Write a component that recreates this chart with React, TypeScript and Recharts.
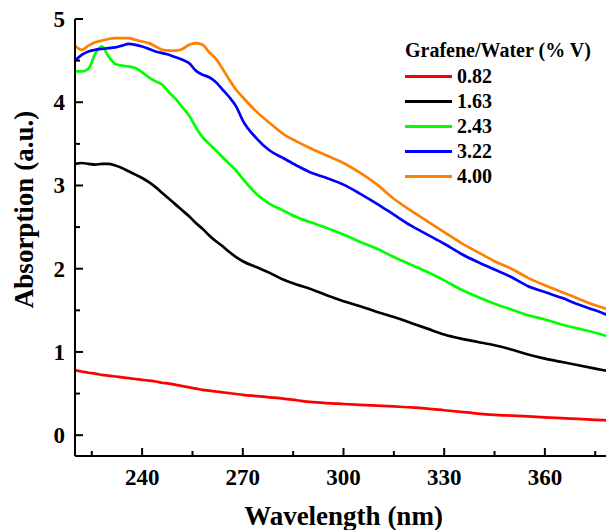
import React from "react";
import { LineChart, Line, XAxis, YAxis, Legend } from "recharts";

const wavelength = [220, 222, 224, 226, 228, 230, 232, 234, 236, 238, 240, 242, 244, 246, 248, 250, 252, 254, 256, 258, 260, 262, 264, 266, 268, 270, 274, 278, 282, 286, 290, 295, 300, 305, 310, 315, 320, 325, 330, 335, 340, 345, 350, 355, 360, 365, 370, 375, 380];

const abs082 = [0.78, 0.765, 0.75, 0.74, 0.725, 0.715, 0.705, 0.695, 0.685, 0.675, 0.665, 0.655, 0.645, 0.63, 0.62, 0.605, 0.59, 0.575, 0.56, 0.545, 0.535, 0.525, 0.515, 0.505, 0.495, 0.485, 0.47, 0.455, 0.44, 0.42, 0.4, 0.385, 0.375, 0.365, 0.355, 0.345, 0.335, 0.32, 0.3, 0.28, 0.26, 0.245, 0.235, 0.225, 0.215, 0.205, 0.195, 0.185, 0.175];
const abs163 = [3.26, 3.27, 3.26, 3.25, 3.26, 3.26, 3.24, 3.21, 3.17, 3.13, 3.09, 3.04, 2.98, 2.91, 2.84, 2.77, 2.7, 2.63, 2.55, 2.48, 2.4, 2.33, 2.27, 2.2, 2.14, 2.09, 2.02, 1.95, 1.87, 1.81, 1.76, 1.68, 1.61, 1.55, 1.48, 1.42, 1.35, 1.28, 1.21, 1.16, 1.12, 1.08, 1.03, 0.97, 0.92, 0.88, 0.84, 0.8, 0.76];
const abs243 = [4.37, 4.37, 4.4, 4.58, 4.67, 4.55, 4.46, 4.44, 4.43, 4.41, 4.36, 4.3, 4.25, 4.21, 4.12, 4.04, 3.94, 3.84, 3.7, 3.58, 3.5, 3.42, 3.34, 3.26, 3.18, 3.08, 2.9, 2.78, 2.7, 2.62, 2.56, 2.49, 2.41, 2.32, 2.24, 2.14, 2.05, 1.96, 1.86, 1.75, 1.66, 1.58, 1.51, 1.44, 1.39, 1.33, 1.28, 1.23, 1.17];
const abs322 = [4.5, 4.57, 4.61, 4.63, 4.64, 4.65, 4.66, 4.68, 4.7, 4.69, 4.67, 4.64, 4.61, 4.59, 4.57, 4.54, 4.51, 4.47, 4.38, 4.33, 4.3, 4.24, 4.15, 4.06, 3.95, 3.78, 3.57, 3.42, 3.33, 3.24, 3.16, 3.09, 3.01, 2.9, 2.78, 2.65, 2.52, 2.41, 2.3, 2.18, 2.08, 1.99, 1.9, 1.79, 1.72, 1.65, 1.57, 1.5, 1.42];
const abs400 = [4.68, 4.63, 4.68, 4.72, 4.74, 4.76, 4.77, 4.77, 4.77, 4.75, 4.73, 4.71, 4.67, 4.63, 4.62, 4.62, 4.64, 4.69, 4.71, 4.69, 4.6, 4.52, 4.4, 4.27, 4.15, 4.06, 3.89, 3.75, 3.62, 3.53, 3.45, 3.36, 3.27, 3.15, 3.01, 2.84, 2.7, 2.57, 2.44, 2.31, 2.2, 2.09, 2.0, 1.89, 1.8, 1.72, 1.64, 1.56, 1.5];

const seriesNames = ["0.82", "1.63", "2.43", "3.22", "4.00"];
const seriesKeys = ["s082", "s163", "s243", "s322", "s400"];
const seriesColors = ["#ff0000", "#000000", "#00ff00", "#0000ff", "#ff8000"];
const seriesValues = [abs082, abs163, abs243, abs322, abs400];

const xTicks = [225, 240, 255, 270, 285, 300, 315, 330, 345, 360, 375];
const yTicks = [0, 0.5, 1, 1.5, 2, 2.5, 3, 3.5, 4, 4.5, 5];

const legendTitle = "Grafene/Water (% V)";
const xTitle = "Wavelength (nm)";
const yTitle = "Absorption (a.u.)";

const data = wavelength.map((w, i) => {
  const row: Record<string, number> = { w };
  seriesKeys.forEach((k, j) => {
    row[k] = seriesValues[j][i];
  });
  return row;
});

const FONT = '"Liberation Serif", "Times New Roman", serif';

const BottomTick = (props: any) => {
  const { x, y, payload } = props;
  const major = payload.value % 30 === 0;
  return (
    <g>
      <line x1={x} x2={x} y1={y} y2={y - (major ? 8 : 5)} stroke="#000" strokeWidth={2} />
      {major && (
        <text x={x} y={y + 29} textAnchor="middle" fontFamily={FONT} fontWeight="bold" fontSize={23} fill="#000">
          {payload.value}
        </text>
      )}
    </g>
  );
};

const TopTick = (props: any) => {
  const { x, y, payload } = props;
  const major = payload.value % 30 === 0;
  return <line x1={x} x2={x} y1={y} y2={y + (major ? 8 : 5)} stroke="#000" strokeWidth={2} />;
};

const LeftTick = (props: any) => {
  const { x, y, payload } = props;
  const major = Number.isInteger(payload.value);
  return (
    <g>
      <line x1={x} x2={x + (major ? 8 : 5)} y1={y} y2={y} stroke="#000" strokeWidth={2} />
      {major && (
        <text x={x - 10} y={y + 8} textAnchor="end" fontFamily={FONT} fontWeight="bold" fontSize={23} fill="#000">
          {payload.value}
        </text>
      )}
    </g>
  );
};

const RightTick = (props: any) => {
  const { x, y, payload } = props;
  const major = Number.isInteger(payload.value);
  return <line x1={x} x2={x - (major ? 8 : 5)} y1={y} y2={y} stroke="#000" strokeWidth={2} />;
};

const XTitle = (props: any) => {
  const vb = props.viewBox || { x: 75, y: 456, width: 537, height: 74 };
  return (
    <text x={vb.x + 268.5} y={vb.y + 69} textAnchor="middle" fontFamily={FONT} fontWeight="bold" fontSize={27} fill="#000">
      {xTitle}
    </text>
  );
};

const YTitle = (props: any) => {
  const vb = props.viewBox || { x: 0, y: 19, width: 75, height: 437 };
  const cx = vb.x + 33;
  const cy = vb.y + vb.height / 2 - 28;
  return (
    <text x={cx} y={cy} transform={`rotate(-90, ${cx}, ${cy})`} textAnchor="middle" fontFamily={FONT} fontWeight="bold" fontSize={27} fill="#000">
      {yTitle}
    </text>
  );
};

const LegendBox = (props: any) => {
  const payload = (props.payload && props.payload.length ? props.payload : seriesNames.map((n, i) => ({ value: n, color: seriesColors[i] })));
  return (
    <div style={{ fontFamily: FONT, fontWeight: "bold", color: "#000" }}>
      <div style={{ fontSize: 20, height: 27, lineHeight: "27px", whiteSpace: "nowrap" }}>{legendTitle}</div>
      {payload.map((p: any) => (
        <div key={p.value} style={{ display: "flex", alignItems: "center", height: 25 }}>
          <div style={{ width: 47, height: 3, background: p.color, marginRight: 5 }} />
          <span style={{ fontSize: 20, lineHeight: "25px" }}>{p.value}</span>
        </div>
      ))}
    </div>
  );
};

export default function App() {
  return (
    <div style={{ position: "absolute", left: 0, top: 0, width: 606, height: 530, overflow: "hidden", background: "#fff" }}>
      <LineChart width={620} height={530} data={data} margin={{ top: 19, right: 8, bottom: 0, left: 0 }}>
        <XAxis
          dataKey="w"
          type="number"
          domain={[220, 380]}
          allowDataOverflow
          ticks={xTicks}
          interval={0}
          tickLine={false}
          tickSize={0}
          tickMargin={0}
          tick={<BottomTick />}
          height={74}
          axisLine={{ stroke: "#000", strokeWidth: 2 }}
          label={{ content: (p: any) => <XTitle {...p} /> }}
        />
        <XAxis
          xAxisId="top"
          orientation="top"
          dataKey="w"
          type="number"
          domain={[220, 380]}
          allowDataOverflow
          ticks={xTicks}
          interval={0}
          tickLine={false}
          tickSize={0}
          tickMargin={0}
          tick={<TopTick />}
          height={0}
          axisLine={{ stroke: "#000", strokeWidth: 2 }}
        />
        <YAxis
          type="number"
          domain={[-0.25, 5]}
          allowDataOverflow
          ticks={yTicks}
          interval={0}
          tickLine={false}
          tickSize={0}
          tickMargin={0}
          tick={<LeftTick />}
          width={75}
          axisLine={{ stroke: "#000", strokeWidth: 2 }}
          label={{ content: (p: any) => <YTitle {...p} /> }}
        />
        <YAxis
          yAxisId="right"
          orientation="right"
          type="number"
          domain={[-0.25, 5]}
          allowDataOverflow
          ticks={yTicks}
          interval={0}
          tickLine={false}
          tickSize={0}
          tickMargin={0}
          tick={<RightTick />}
          width={0}
          axisLine={{ stroke: "#000", strokeWidth: 2 }}
        />
        {seriesKeys.map((k, i) => (
          <Line
            key={k}
            dataKey={k}
            name={seriesNames[i]}
            type="monotone"
            stroke={seriesColors[i]}
            strokeWidth={2.7}
            dot={false}
            isAnimationActive={false}
          />
        ))}
        <Legend
          layout="vertical"
          align="center"
          verticalAlign="middle"
          content={<LegendBox />}
          wrapperStyle={{ position: "absolute", left: 405, top: 37, width: 200, height: 190 }}
        />
      </LineChart>
    </div>
  );
}
